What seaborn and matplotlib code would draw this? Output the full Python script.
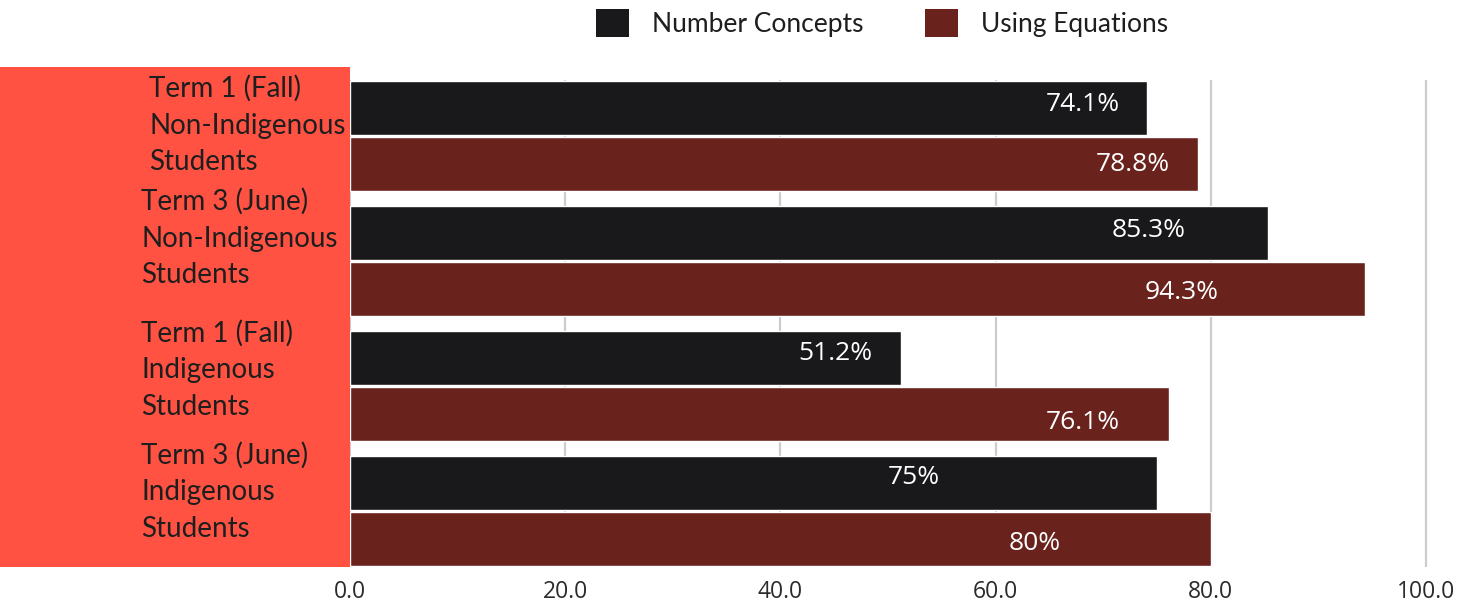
import matplotlib
matplotlib.use("Agg")
import matplotlib.pyplot as plt
from matplotlib.patches import Rectangle, Patch
from matplotlib.transforms import ScaledTranslation
import seaborn as sns
import pandas as pd

# ---- data ----
groups = [
    "Term 1 (Fall)\nNon-Indigenous\nStudents",
    "Term 3 (June)\nNon-Indigenous\nStudents",
    "Term 1 (Fall)\nIndigenous\nStudents",
    "Term 3 (June)\nIndigenous\nStudents",
]
series = ["Number Concepts", "Using Equations"]
number_concepts = [74.1, 85.3, 51.2, 75.0]
using_equations = [78.8, 94.3, 76.1, 80.0]
x_ticks = [0, 20, 40, 60, 80, 100]

# value-label placement (px): gap from bar end to label's right edge, vertical shift
label_gap = [[27, 82, 28, 217], [28, 146, 49, 150]]
label_shift = [[-4, -2, -4, -5], [0, 3, 8, 5]]

colors = ["#19181a", "#6a221d"]
bg_red = "#ff5242"

df = pd.DataFrame({
    "group": groups * 2,
    "series": [series[0]] * 4 + [series[1]] * 4,
    "value": number_concepts + using_equations,
})

sns.set_theme(style="white")
plt.rcParams["font.family"] = ["Lato", "DejaVu Sans"]

W, H = 1469, 608
fig = plt.figure(figsize=(W / 100, H / 100), dpi=100)
ax = fig.add_axes([350 / W, (H - 567) / H, (W - 350) / W, 487 / H])

# red label panel
fig.patches.append(Rectangle((0, (H - 567) / H), 350 / W, 500 / H,
                             transform=fig.transFigure, facecolor=bg_red,
                             edgecolor="none", zorder=-1))

sns.barplot(data=df, y="group", x="value", hue="series", orient="h",
            palette=colors, saturation=1, width=0.9, gap=0.04,
            legend=False, ax=ax, zorder=3)

ax.set_xlim(0, 1119 / 10.76)
ax.set_ylim(3.45, -0.45)
ax.set_xlabel("")
ax.set_ylabel("")
for s in ax.spines.values():
    s.set_visible(False)
ax.set_facecolor("none")

ax.set_xticks(x_ticks)
ax.set_xticklabels([f"{t:.1f}" for t in x_ticks], fontfamily="Open Sans",
                   fontsize=16.5, color="#2b2b2b")
ax.tick_params(axis="x", length=0, pad=9)
ax.grid(axis="x", color="#cccccc", linewidth=1.6, zorder=0)
ax.grid(axis="y", visible=False)
ax.set_axisbelow(True)

ax.set_yticks(range(len(groups)))
ax.set_yticklabels(groups, ha="left", va="center", fontsize=20,
                   color="#1e1e1e", linespacing=1.5)
ax.tick_params(axis="y", length=0, pad=(350 - 141) / 100 * 72)
dy = [11, 23, 16, 19]
dx = [8, 0, 0, 0]
for lbl, oy, ox in zip(ax.get_yticklabels(), dy, dx):
    lbl.set_transform(lbl.get_transform() +
                      ScaledTranslation(ox / 100, oy / 100, fig.dpi_scale_trans))

# value labels
for cont, vals, gaps, shifts in zip(ax.containers, [number_concepts, using_equations],
                                    label_gap, label_shift):
    for bar, v, g, sh in zip(cont, vals, gaps, shifts):
        ax.annotate(f"{v:g}%", (bar.get_width(), bar.get_y() + bar.get_height() / 2),
                    xytext=(-g / 100 * 72, -sh / 100 * 72), textcoords="offset points",
                    ha="right", va="center", color="white", fontsize=19,
                    fontfamily="Open Sans", zorder=5)

handles = [Patch(facecolor=c, edgecolor="none") for c in colors]
fig.legend(handles, series, loc="center", bbox_to_anchor=(882 / W, 1 - 23 / H),
           ncol=2, frameon=False, fontsize=19, handlelength=1.25,
           handleheight=1.25, handletextpad=0.85, columnspacing=2.35,
           labelcolor="#1e1e1e")

fig.savefig("out.png", dpi=100)
